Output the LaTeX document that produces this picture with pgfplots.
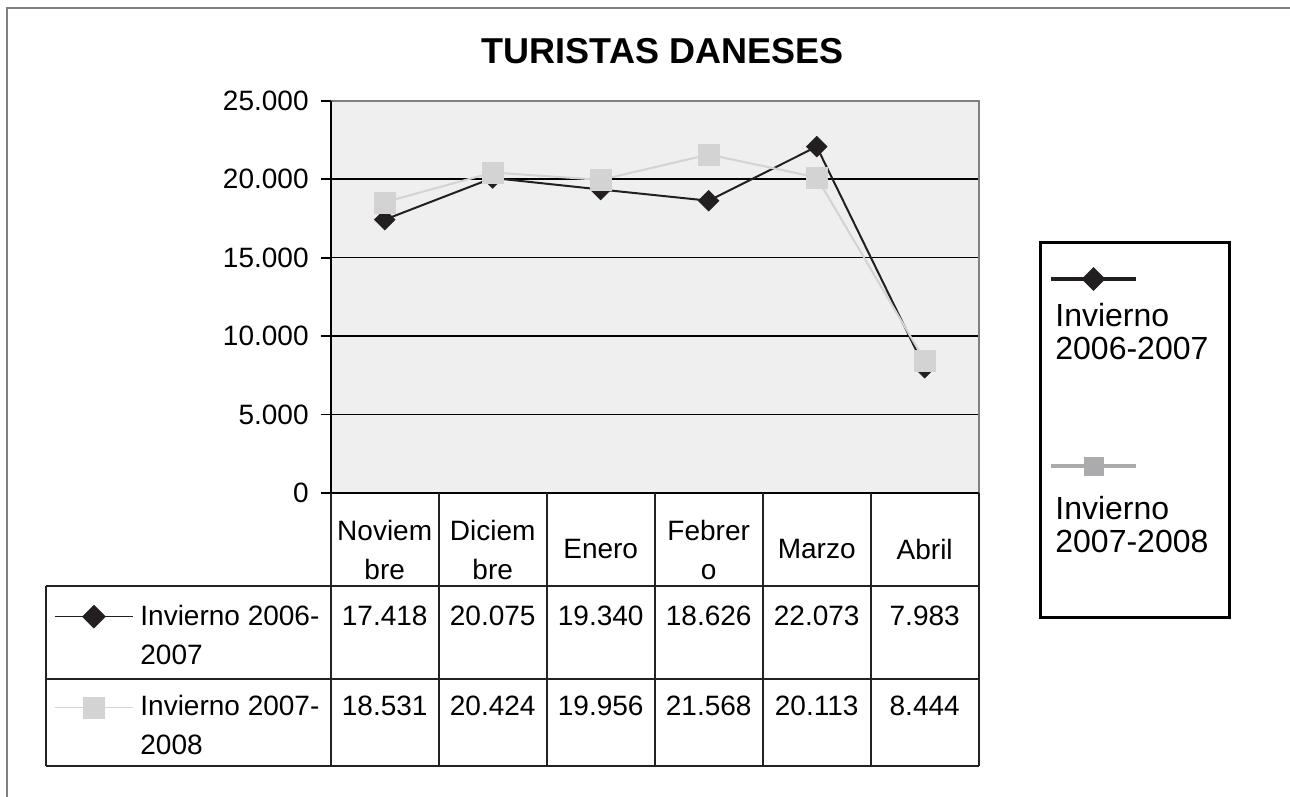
\documentclass[border=0pt]{standalone}
\usepackage{pgfplots}
\pgfplotsset{compat=1.18}
\usepackage{fontspec}
\setmainfont{Liberation Sans}
\definecolor{serA}{HTML}{231F20}
\definecolor{serB}{HTML}{D3D3D3}
\definecolor{serBleg}{HTML}{ABABAD}
\definecolor{plotbg}{HTML}{EFEFEF}
\definecolor{framegray}{HTML}{808080}
\definecolor{tabline}{HTML}{222222}
\begin{document}
\begin{tikzpicture}
\path[use as bounding box] (0,0) rectangle (645pt,398.5pt);
\fill[white] (0,0) rectangle (645pt,398.5pt);
\draw[color=framegray, line width=0.75pt] (3.5pt,0) -- (3.5pt,394.5pt) -- (645pt,394.5pt);

\begin{axis}[
  at={(165.35pt,152pt)}, anchor=south west,
  scale only axis, width=324pt, height=196.15pt,
  xmin=-0.5, xmax=5.5, ymin=0, ymax=25000,
  axis background/.style={fill=plotbg},
  axis line style={draw=none},
  xtick={0,1,2,3,4,5},
  xticklabels={Noviem\\bre, Diciem\\bre, Enero, Febrer\\o, Marzo, Abril},
  x tick style={draw=none},
  xticklabel style={align=center, anchor=center, inner sep=0pt, font=\fontsize{14}{19.5}\selectfont, yshift=-23.25pt},
  ytick={0,5000,10000,15000,20000,25000},
  yticklabels={0,5.000,10.000,15.000,20.000,25.000},
  scaled y ticks=false,
  ytick pos=left,
  tick align=outside,
  major tick length=5pt,
  y tick style={draw=black, line width=0.9pt},
  yticklabel style={font=\fontsize{14}{16}\selectfont, anchor=east},
  yticklabel shift=2.5pt,
  ymajorgrids, grid style={draw=black, line width=0.8pt},
  clip=false,
  legend style={draw=none, fill=none, at={(1.10849,0.57482)}, anchor=north west,
    inner sep=0pt, outer sep=0pt, row sep=83.15pt,
    nodes={inner sep=0pt, outer sep=0pt}},
  legend cell align=left,
  legend image code/.code={\draw[mark repeat=2,mark phase=2,#1] plot coordinates {(0pt,0pt) (21.25pt,0pt) (42.5pt,0pt)};},
]
\addplot[serA, line width=1pt, mark=square*, mark size=3.7pt,
  mark options={rotate=45, line width=0.2pt, fill=serA}, forget plot]
  coordinates {(0,17418) (1,20075) (2,19340) (3,18626) (4,22073) (5,7983)};
\addplot[serB, line width=1pt, mark=square*, mark size=5.25pt,
  mark options={line width=0.2pt, fill=serB}, forget plot]
  coordinates {(0,18531) (1,20424) (2,19956) (3,21568) (4,20113) (5,8444)};
\addlegendimage{serA, line width=2pt, mark=square*, mark size=4.07pt, mark options={rotate=45, line width=0.2pt, fill=serA}}
\addlegendentry{\mbox{}}
\addlegendimage{serBleg, line width=2pt, mark=square*, mark size=4.6pt, mark options={line width=0.2pt, fill=serBleg}}
\addlegendentry{\mbox{}}
\end{axis}

\begin{axis}[
  at={(165.35pt,152pt)}, anchor=south west,
  scale only axis, width=324pt, height=196.15pt,
  xmin=-0.5, xmax=5.5, ymin=0, ymax=25000,
  hide axis,
  legend style={draw=none, fill=none, at={(-0.42701,-0.28600)}, anchor=north west,
    inner sep=0pt, outer sep=0pt, row sep=34.5pt,
    nodes={inner sep=0pt, outer sep=0pt}},
  legend cell align=left,
  legend image code/.code={\draw[mark repeat=2,mark phase=2,#1] plot coordinates {(0pt,0pt) (19.675pt,0pt) (39.35pt,0pt)};},
]
\addlegendimage{serA, line width=0.6pt, mark=square*, mark size=4.07pt, mark options={rotate=45, line width=0.2pt, fill=serA}}
\addlegendentry{\mbox{}}
\addlegendimage{serB, line width=0.6pt, mark=square*, mark size=5.25pt, mark options={line width=0.2pt, fill=serB}}
\addlegendentry{\mbox{}}
\end{axis}

% plot area frame
\draw[framegray, line width=1pt] (165.35pt,348.15pt) -- (489.35pt,348.15pt) -- (489.35pt,152pt);
\draw[black, line width=1pt] (165.35pt,348.15pt) -- (165.35pt,152pt) -- (489.35pt,152pt);

% data table
\begin{scope}[tabline, line width=0.9pt]
\foreach \x in {165.35,219.35,273.35,327.35,381.35,435.35,489.35}
  \draw (\x pt,152pt) -- (\x pt,15.65pt);
\draw (22.85pt,105.5pt) -- (22.85pt,15.65pt);
\draw (22.85pt,105.5pt) -- (489.35pt,105.5pt);
\draw (22.85pt,59pt) -- (489.35pt,59pt);
\draw (22.85pt,15.65pt) -- (489.35pt,15.65pt);
\end{scope}

\begin{scope}[every node/.style={inner sep=0pt, font=\fontsize{14}{16}\selectfont}]
\node[anchor=base west] at (70pt,85.5pt) {Invierno 2006-};
\node[anchor=base west] at (70pt,66pt) {2007};
\node[anchor=base west] at (70pt,40.5pt) {Invierno 2007-};
\node[anchor=base west] at (70pt,21pt) {2008};
\foreach \x/\v in {192.35/17.418,246.35/20.075,300.35/19.340,354.35/18.626,408.35/22.073,462.35/7.983}
  \node[anchor=base] at (\x pt,85.5pt) {\v};
\foreach \x/\v in {192.35/18.531,246.35/20.424,300.35/19.956,354.35/21.568,408.35/20.113,462.35/8.444}
  \node[anchor=base] at (\x pt,40.5pt) {\v};
\end{scope}

% right legend box and text
\draw[black, line width=1.5pt] (520pt,277pt) rectangle (614.5pt,89.5pt);
\begin{scope}[every node/.style={inner sep=0pt, font=\fontsize{16}{19}\selectfont}]
\node[anchor=base west] at (527.5pt,235pt) {Invierno};
\node[anchor=base west] at (527.5pt,218.5pt) {2006-2007};
\node[anchor=base west] at (527.5pt,138.5pt) {Invierno};
\node[anchor=base west] at (527.5pt,122pt) {2007-2008};
\end{scope}

\node[anchor=base, inner sep=0pt, font=\fontsize{18}{21}\selectfont\bfseries] at (331.25pt,366.5pt) {TURISTAS DANESES};
\end{tikzpicture}
\end{document}
